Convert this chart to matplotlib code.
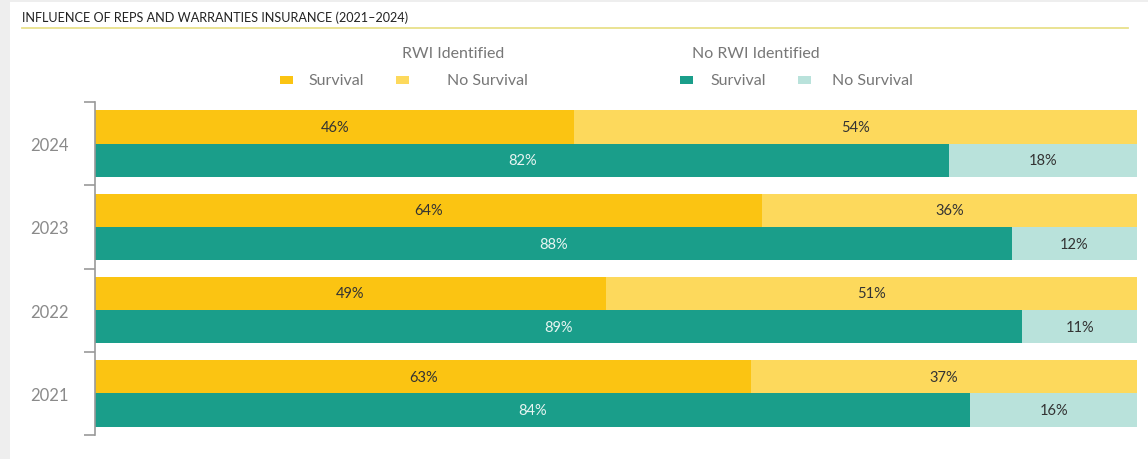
import numpy as np
import matplotlib.pyplot as plt
from matplotlib.patches import Rectangle
from matplotlib.lines import Line2D

years = ["2021", "2022", "2023", "2024"]
rwi_survival = [63, 49, 64, 46]
rwi_no_survival = [37, 51, 36, 54]
norwi_survival = [84, 89, 88, 82]
norwi_no_survival = [16, 11, 12, 18]

c_rwi_s = "#FBC412"
c_rwi_n = "#FDD95C"
c_nor_s = "#1A9E8A"
c_nor_n = "#B9E2DB"

W, H = 1148, 460
plt.rcParams['font.family'] = ["Lato", "DejaVu Sans"]
fig = plt.figure(figsize=(W / 100, H / 100), dpi=100)
fig.patch.set_facecolor("#EEEEEE")
fig.patches.append(Rectangle((10 / W, 0), 1, 1 - 3 / H, transform=fig.transFigure,
                             facecolor="white", edgecolor="none", zorder=-10))

# title and underline
fig.text(22 / W, 1 - 18 / H, "INFLUENCE OF REPS AND WARRANTIES INSURANCE (2021\u20132024)",
         fontsize=9.1, color="#222222", va="center", ha="left")
fig.add_artist(Line2D([22 / W, 1128 / W], [1 - 28.5 / H] * 2, transform=fig.transFigure,
                      color="#E8E08A", lw=1.3))

ax = fig.add_axes([95 / W, 1 - 436 / H, 1042 / W, 333 / H])
y = np.arange(len(years))
h = 0.4
ax.barh(y + 0.2, rwi_survival, height=h, color=c_rwi_s)
ax.barh(y + 0.2, rwi_no_survival, left=rwi_survival, height=h, color=c_rwi_n)
ax.barh(y - 0.2, norwi_survival, height=h, color=c_nor_s)
ax.barh(y - 0.2, norwi_no_survival, left=norwi_survival, height=h, color=c_nor_n)

for i in range(len(years)):
    ax.text(rwi_survival[i] / 2, y[i] + 0.2, f"{rwi_survival[i]}%", ha="center", va="center",
            fontsize=10.5, color="#333333")
    ax.text(rwi_survival[i] + rwi_no_survival[i] / 2, y[i] + 0.2, f"{rwi_no_survival[i]}%",
            ha="center", va="center", fontsize=10.5, color="#333333")
    ax.text(norwi_survival[i] / 2, y[i] - 0.2, f"{norwi_survival[i]}%", ha="center", va="center",
            fontsize=10.5, color="#E8F5F2")
    ax.text(norwi_survival[i] + norwi_no_survival[i] / 2, y[i] - 0.2, f"{norwi_no_survival[i]}%",
            ha="center", va="center", fontsize=10.5, color="#333333")

ax.set_xlim(0, 100)
ax.set_ylim(-0.5, len(years) - 0.5)
ax.set_yticks(y)
ax.set_yticklabels(years, fontsize=12, color="#8A8A8A")
ax.tick_params(axis="y", which="major", length=0, pad=19)
ax.set_yticks(np.arange(-0.5, len(years)), minor=True)
ax.tick_params(axis="y", which="minor", length=8, color="#999999", width=1.2)
ax.set_xticks([])
for s in ["top", "right", "bottom"]:
    ax.spines[s].set_visible(False)
ax.spines["left"].set_color("#999999")
ax.spines["left"].set_linewidth(1.2)
ax.set_facecolor("none")

# legend
lab_col = "#777777"
fig.text(453 / W, 1 - 54 / H, "RWI Identified", fontsize=11.5, color=lab_col, ha="center", va="center")
fig.text(756 / W, 1 - 54 / H, "No RWI Identified", fontsize=11.5, color=lab_col, ha="center", va="center")
items = [(280, c_rwi_s, 308, "Survival"), (396, c_rwi_n, 447, "No Survival"),
         (680, c_nor_s, 710, "Survival"), (798, c_nor_n, 832, "No Survival")]
for sx, col, tx, txt in items:
    fig.patches.append(Rectangle((sx / W, 1 - 85 / H), 13 / W, 8 / H, transform=fig.transFigure,
                                 facecolor=col, edgecolor="none"))
    fig.text(tx / W, 1 - 81 / H, txt, fontsize=11.5, color=lab_col, ha="left", va="center")

fig.savefig("out.png", dpi=100)
